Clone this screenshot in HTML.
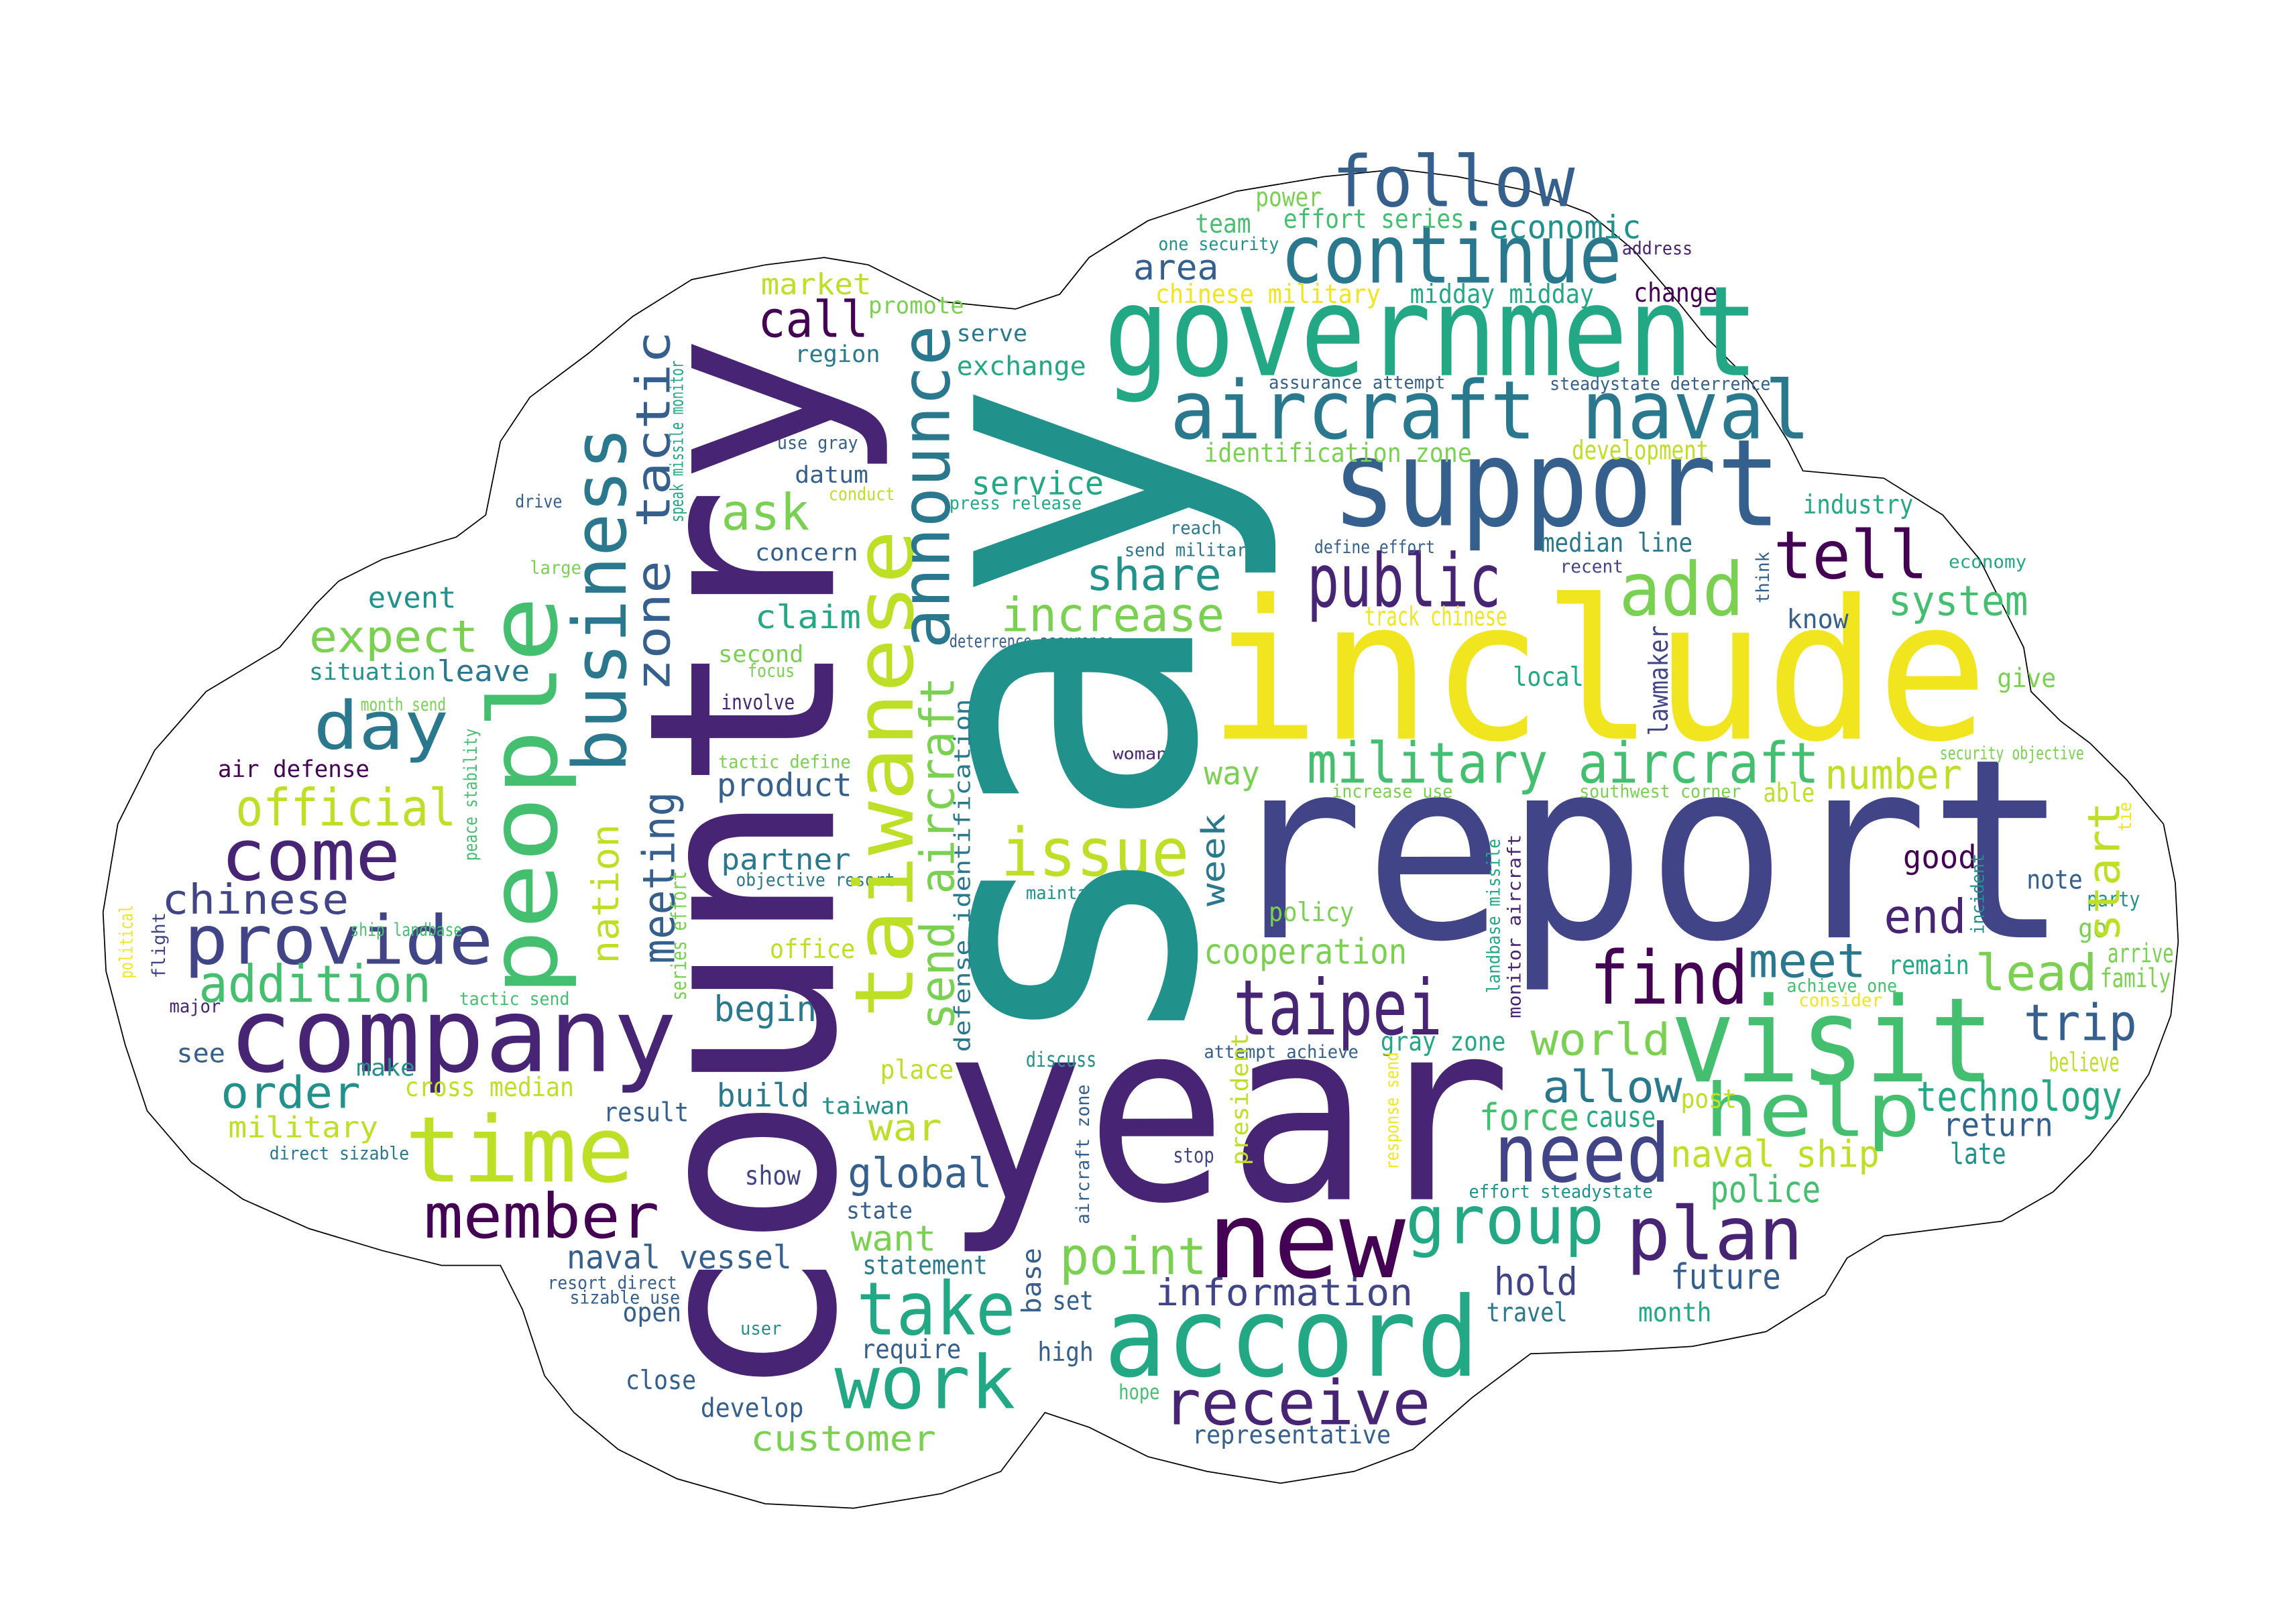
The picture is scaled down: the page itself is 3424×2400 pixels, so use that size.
<!DOCTYPE html>
<html><head><meta charset="utf-8"><title>Word cloud</title>
<style>
html,body{margin:0;padding:0;background:#fff;}
svg{display:block;}
text{font-family:"DejaVu Sans Mono","Liberation Mono",monospace;}
</style></head>
<body>
<svg id="cloud" width="3424" height="2400" viewBox="0 0 1560 1093.5" xmlns="http://www.w3.org/2000/svg">
<rect width="1560" height="1093.5" fill="#fff"/>
<path fill="none" stroke="#000" stroke-width="0.8" d="M70,620 L80,560 L105,510 L140,470 L190,440 L215,410 L230,395 L260,380 L310,365 L330,350 L340,300 L360,270 L400,240 L430,215 L470,190 L520,180 L560,175 L590,180 L640,205 L690,210 L720,200 L740,175 L780,150 L840,130 L900,120 L950,115 L990,120 L1040,130 L1080,145 L1110,170 L1140,205 L1160,230 L1190,260 L1215,300 L1225,320 L1280,325 L1320,350 L1345,380 L1360,410 L1375,440 L1380,470 L1400,490 L1420,505 L1445,530 L1470,560 L1478,600 L1480,640 L1475,690 L1460,730 L1440,760 L1420,785 L1395,810 L1360,830 L1320,835 L1280,840 L1255,855 L1240,880 L1200,905 L1150,915 L1100,918 L1040,920 L1000,950 L960,985 L920,1000 L870,1008 L820,1000 L780,990 L740,970 L710,960 L680,1000 L640,1015 L580,1025 L520,1022 L460,1005 L420,985 L390,960 L370,935 L355,890 L340,860 L300,860 L260,850 L210,835 L165,815 L130,790 L100,755 L85,710 L72,660 Z"/>
<g id="words"></g>
</svg>
<script>
const C=["#440154","#482475","#414487","#355f8d","#2a788e","#21918c","#22a884","#44bf70","#7ad151","#bddf26","#f0e51e"];
// word, x, baseline y, font size, colour index, text length, rotated(1)
const words=[
["report",831,637,170,2,575,0],["include",821,502,132,10,530,0],["year",641,815,170,1,386,0],
["government",750,255,85,6,445,0],["support",905,357,82,3,305,0],["aircraft naval",795,298,55,4,435,0],
["continue",870,192,55,4,232,0],["follow",905,140,48,3,165,0],["public",888,412,50,1,132,0],
["add",1100,418,50,8,85,0],["tell",1205,393,45,0,105,0],["system",1283,418,28,7,95,0],
["industry",1225,349,18,6,75,0],["visit",1135,735,80,7,220,0],["help",1158,772,50,7,147,0],
["need",1015,803,55,2,120,0],["allow",1048,749,30,4,95,0],["world",1040,717,30,8,95,0],
["meet",1188,664,32,4,80,0],["find",1080,682,50,0,108,0],["lead",1342,673,34,8,83,0],
["trip",1375,707,34,3,77,0],["end",1280,634,32,1,56,0],["number",1240,536,28,9,93,0],
["good",1293,590,22,0,50,0],["note",1377,604,18,3,38,0],["remain",1283,662,18,6,55,0],
["arrive",1432,654,18,8,45,0],["family",1427,671,18,8,48,0],["go",1412,637,18,8,20,0],
["party",1418,616,14,5,36,0],["technology",1302,755,28,6,140,0],["return",1320,772,22,3,75,0],
["late",1325,791,20,5,38,0],["believe",1392,728,18,9,48,0],["police",1162,817,25,7,75,0],
["naval ship",1135,793,25,9,142,0],["cause",1077,766,20,6,48,0],["force",1005,768,25,7,68,0],
["post",1142,753,18,9,38,0],["new",820,868,72,0,135,0],["taipei",838,703,52,1,142,0],
["plan",1105,856,50,1,120,0],["group",955,845,45,6,135,0],["accord",750,935,75,6,255,0],
["receive",790,968,42,1,182,0],["representative",810,981,17,3,135,0],["information",785,887,25,2,175,0],
["point",720,866,35,8,100,0],["take",582,907,50,6,108,0],["work",567,957,50,6,123,0],
["customer",510,986,24,8,126,0],["hold",1015,880,26,2,57,0],["future",1135,876,24,3,75,0],
["travel",1010,898,18,4,55,0],["month",1113,898,18,6,50,0],["set",715,890,18,3,28,0],
["high",705,925,18,3,38,0],["hope",760,951,14,7,28,0],["require",585,923,18,3,68,0],
["open",423,898,18,3,40,0],["close",425,944,18,3,48,0],["develop",476,963,18,3,70,0],
["user",503,907,12,5,28,0],["member",288,841,42,0,160,0],["time",275,803,62,9,156,0],
["company",155,728,70,1,305,0],["provide",125,655,46,2,210,0],["chinese",110,621,28,2,127,0],
["come",150,598,48,1,122,0],["addition",135,681,35,7,158,0],["official",160,561,35,9,150,0],
["day",213,509,45,4,92,0],["expect",210,443,30,8,115,0],["event",250,413,20,5,60,0],
["situation",210,462,16,5,86,0],["leave",297,463,20,4,63,0],["order",150,753,30,5,95,0],
["military",155,773,20,9,102,0],["see",120,722,18,3,33,0],["make",242,731,16,5,40,0],
["cross median",275,745,18,9,115,0],["result",410,762,18,3,58,0],["air defense",148,528,16,0,103,0],
["month send",245,483,12,8,58,0],["major",115,688,12,1,35,0],["tactic send",312,683,12,7,75,0],
["ship landbase",238,636,12,7,76,0],["ask",490,360,34,8,60,0],["call",515,229,34,0,75,0],
["market",517,200,20,9,75,0],["promote",590,213,16,8,65,0],["region",540,246,16,4,58,0],
["serve",650,232,16,4,48,0],["exchange",650,255,18,6,88,0],["use gray",528,305,12,3,55,0],
["datum",540,328,16,3,50,0],["conduct",563,340,12,9,45,0],["press release",645,346,12,6,90,0],
["service",660,336,22,6,90,0],["concern",513,381,16,3,70,0],["claim",513,427,22,6,72,0],
["second",488,450,16,8,58,0],["focus",508,460,12,8,32,0],["involve",490,482,14,1,50,0],
["tactic define",488,522,12,8,90,0],["product",487,541,22,3,92,0],["partner",490,591,20,4,88,0],
["objective resort",500,602,12,4,108,0],["office",523,651,18,9,58,0],["begin",485,694,24,4,70,0],
["place",598,733,18,9,50,0],["build",487,752,22,4,63,0],["taiwan",558,757,16,5,60,0],
["war",590,775,25,9,50,0],["global",576,807,28,3,98,0],["show",506,805,18,2,38,0],
["state",575,828,16,3,45,0],["want",578,850,24,8,58,0],["statement",586,866,18,4,85,0],
["naval vessel",385,862,22,3,153,0],["resort direct",372,876,12,3,88,0],["sizable use",387,886,12,3,75,0],
["share",738,401,30,5,92,0],["increase",680,429,32,8,152,0],["issue",680,595,45,9,128,0],
["deterrence assurance",645,440,12,3,112,0],["way",818,533,22,8,38,0],["woman",756,516,11,1,37,0],
["military aircraft",888,532,38,7,348,0],["increase use",905,542,12,8,82,0],["southwest corner",1073,542,12,8,110,0],
["able",1198,545,18,9,35,0],["security objective",1318,516,12,8,98,0],["give",1357,467,18,8,40,0],
["local",1028,466,18,6,48,0],["know",1214,427,18,3,42,0],["economy",1324,386,12,6,53,0],
["recent",1060,389,12,2,43,0],["median line",1047,375,18,4,103,0],["reach",795,363,12,4,35,0],
["send military",764,378,12,4,90,0],["define effort",893,376,12,3,82,0],["track chinese",927,425,18,10,97,0],
["identification zone",818,314,18,8,182,0],["development",1068,312,18,9,93,0],["assurance attempt",862,264,12,3,120,0],
["steadystate deterrence",1053,265,12,3,150,0],["chinese military",785,206,18,10,153,0],["midday midday",958,206,18,6,125,0],
["change",1110,205,18,0,57,0],["area",770,190,24,3,58,0],["address",1102,173,12,1,48,0],
["economic",1012,162,22,5,103,0],["effort series",872,155,18,7,123,0],["team",812,158,18,7,38,0],
["one security",787,170,12,5,82,0],["power",853,140,18,8,45,0],["policy",862,626,18,8,58,0],
["cooperation",818,655,24,8,138,0],["maintain",697,611,12,5,56,0],["discuss",697,725,14,5,48,0],
["attempt achieve",818,719,12,3,105,0],["gray zone",938,714,18,6,85,0],["achieve one",1214,674,12,7,75,0],
["consider",1222,684,12,10,57,0],["stop",797,790,14,2,28,0],["effort steadystate",998,814,12,5,125,0],
["direct sizable",183,788,12,4,95,0],["large",360,390,12,8,35,0],["drive",350,345,12,3,32,0],
["say",810,720,272,5,462,1],["country",566,952,176,1,725,1],["people",378,677,64,7,272,1],
["business",425,525,50,4,235,1],["zone tactic",455,470,32,3,245,1],["taiwanese",620,692,55,9,332,1],
["announce",645,441,46,4,220,1],["send aircraft",648,700,32,8,240,1],["defense identification",659,715,15,4,240,1],
["meeting",458,655,30,3,117,1],["nation",420,655,25,9,95,1],["week",832,616,22,4,63,1],
["start",1440,640,30,9,95,1],["lawmaker",1133,500,18,2,75,1],["monitor aircraft",1033,692,12,1,125,1],
["landbase missile",1019,675,12,6,105,1],["series effort",466,680,14,8,88,1],["peace stability",324,585,12,7,90,1],
["speak missile monitor",464,355,12,6,110,1],["political",90,665,12,10,50,1],["flight",112,665,12,2,45,1],
["president",848,792,16,9,90,1],["response send",950,795,12,10,80,1],["aircraft zone",740,832,12,3,95,1],
["base",707,893,18,3,45,1],["incident",1348,635,12,5,55,1],["tie",1448,565,12,10,20,1],["think",1202,410,12,3,35,1]
];
const g=document.getElementById('words');
const NS="http://www.w3.org/2000/svg";
words.forEach(w=>{
  const t=document.createElementNS(NS,'text');
  t.textContent=w[0];
  t.setAttribute('font-size',w[3]);
  t.setAttribute('fill',C[w[4]]);
  t.setAttribute('textLength',w[5]);
  t.setAttribute('lengthAdjust','spacingAndGlyphs');
  if(w[6]){t.setAttribute('transform','translate('+w[1]+','+w[2]+') rotate(-90)');}
  else{t.setAttribute('x',w[1]);t.setAttribute('y',w[2]);}
  
  
  g.appendChild(t);
});
</script>
</body></html>
